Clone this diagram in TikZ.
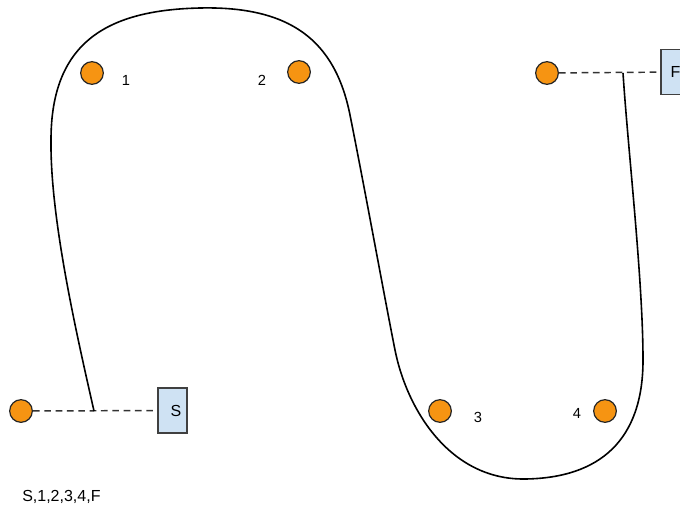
\documentclass[tikz,border=0pt]{standalone}
\usepackage{fontspec}
\setmainfont{Liberation Sans}
\begin{document}
\begin{tikzpicture}[x=0.75pt,y=-0.75pt,
  dot/.style={circle,draw=black!85,fill=dotorange,line width=0.9pt,minimum size=17pt,inner sep=0pt},
  stbox/.style={draw=black!75,fill=boxblue,line width=0.8pt,minimum width=21.75pt,minimum height=33.75pt,inner sep=0pt,font=\fontsize{12}{14}\selectfont},
  lbl/.style={font=\fontsize{11}{13}\selectfont,inner sep=0pt},
  dline/.style={draw=black!80,dashed,dash pattern=on 5pt off 3.5pt,line width=1.1pt},
  track/.style={draw=black,line width=1.2pt}]
\definecolor{dotorange}{RGB}{246,148,18}
\definecolor{boxblue}{RGB}{207,226,243}
\useasboundingbox (0,0) rectangle (680,510);
% dots
\node[dot] (d1) at (92,73) {};
\node[dot] (d2) at (299,72) {};
\node[dot] (d3) at (440,411) {};
\node[dot] (d4) at (605,411) {};
\node[dot] (ds) at (21,411) {};
\node[dot] (df) at (547,73) {};
% boxes
\node[stbox] (S) at (172.5,410.5) {\hspace{5pt}S};
\node[stbox] (F) at (675.5,72) {F};
% labels
\node[lbl] (l1) at (126,80) {1};
\node[lbl] (l2) at (262,80) {2};
\node[lbl] (l3) at (478,417) {3};
\node[lbl] (l4) at (577,413) {4};
\node[font=\fontsize{12}{14}\selectfont,inner sep=0pt,anchor=west] (seq) at (22,497) {S,1,2,3,4,F};
% dashed connectors
\draw[dline] (ds) -- (S);
\draw[dline] (df) -- (F);
% track
\coordinate (js) at (94,411);
\coordinate (jf) at (623,73);
\draw[track] (js) .. controls (78,340) and (50,220) .. (51,140)
  .. controls (51,40) and (110,10) .. (200,8)
  .. controls (290,6) and (335,40) .. (350,115)
  .. controls (365,190) and (385,300) .. (395,350)
  .. controls (407,410) and (450,480) .. (525,479)
  .. controls (600,478) and (643,440) .. (643,360)
  .. controls (643,280) and (628,150) .. (jf);
\end{tikzpicture}
\end{document}
